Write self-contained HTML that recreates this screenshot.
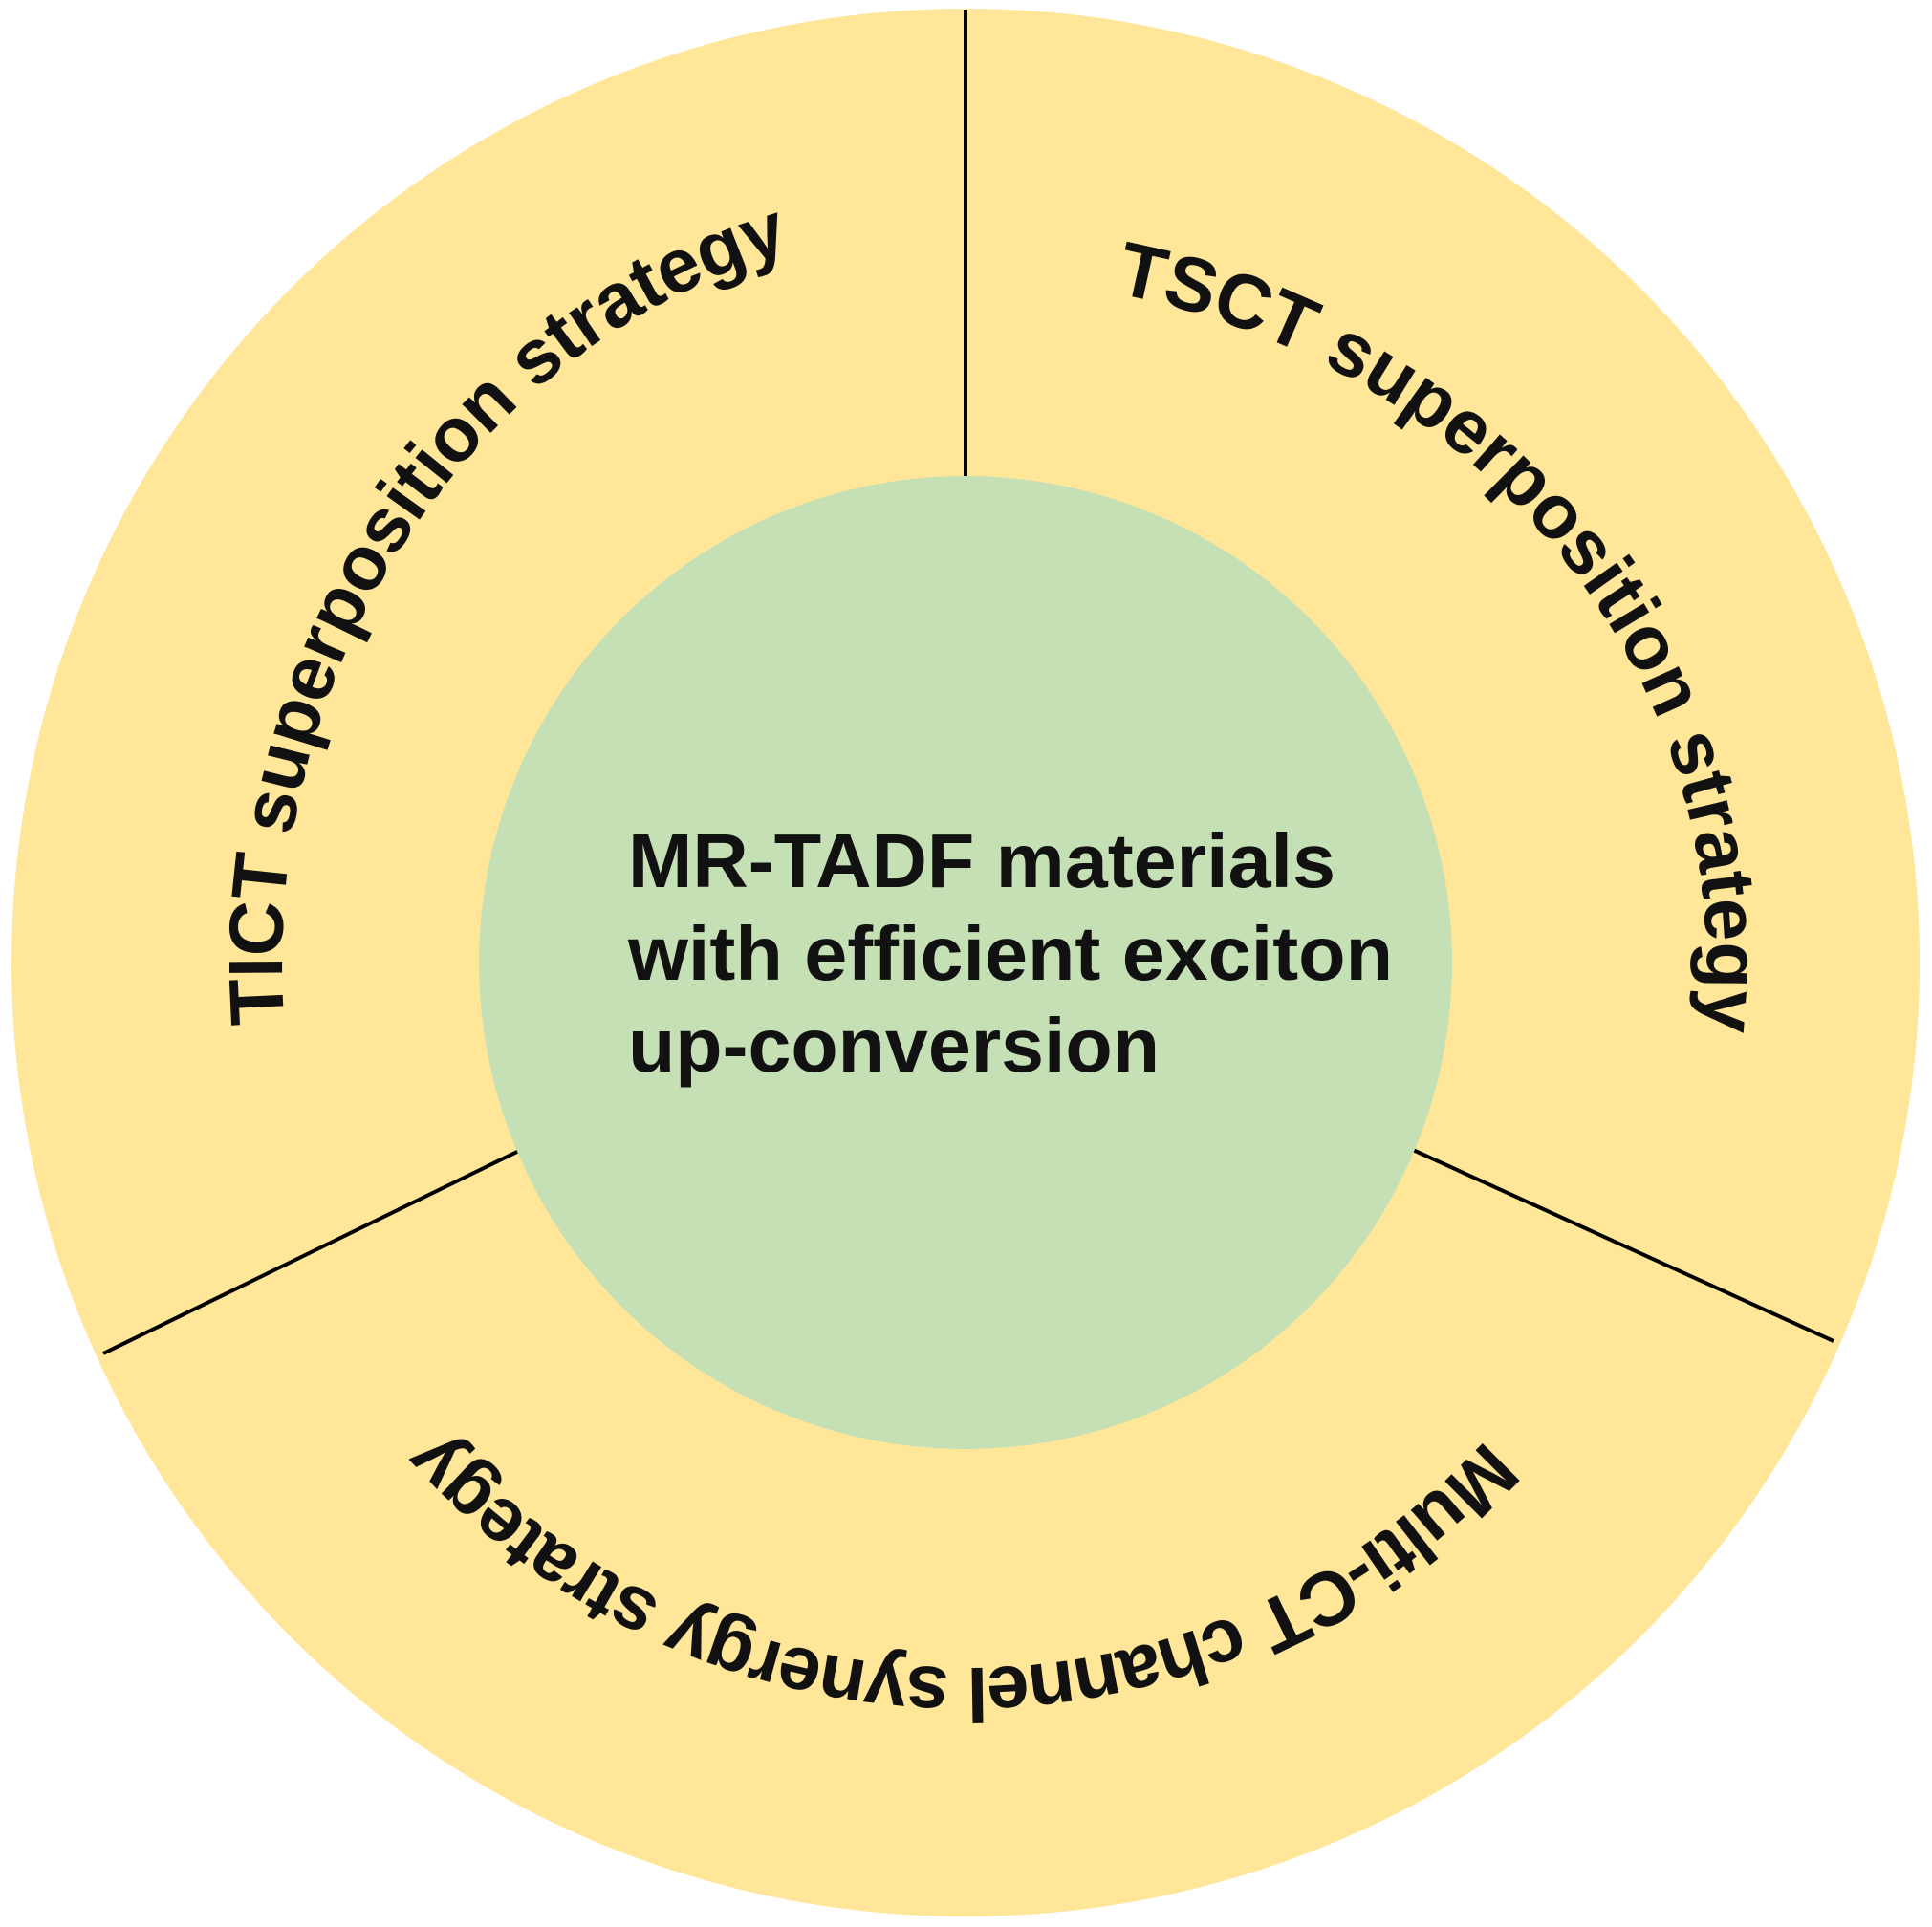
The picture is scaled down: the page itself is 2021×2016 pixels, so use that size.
<!DOCTYPE html>
<html><head><meta charset="utf-8"><style>html,body{margin:0;padding:0;background:#fff}svg{display:block}</style></head>
<body>
<svg width="2021" height="2016" viewBox="0 0 2021 2016" xmlns="http://www.w3.org/2000/svg">
<defs>
<path id="ring" d="M 1748 1007 A 738 738 0 0 1 272 1007 A 738 738 0 0 1 1748 1007" fill="none"/>
<path id="ringL" d="M 1010 1777 A 715 770 0 0 1 1010 237 A 715 770 0 0 1 1010 1777" fill="none"/>
<path id="ringR" d="M 235 1007 A 775 715 0 0 1 1785 1007 A 775 715 0 0 1 235 1007" fill="none"/>
</defs>
<circle cx="1010" cy="1007" r="998" fill="#FFE699"/>
<line x1="1010" y1="10" x2="1010" y2="500" stroke="#000" stroke-width="4"/>
<line x1="545" y1="1203" x2="108" y2="1416" stroke="#000" stroke-width="4"/>
<line x1="1478" y1="1203" x2="1918" y2="1403" stroke="#000" stroke-width="4"/>
<circle cx="1010" cy="1007" r="509" fill="#C5E0B4"/>
<g font-family="Liberation Sans, Arial, sans-serif" font-weight="bold" font-size="80" fill="#111">
<text text-anchor="middle"><textPath href="#ringL" startOffset="1625" textLength="1045" lengthAdjust="spacing">TICT superposition strategy</textPath></text>
<text text-anchor="middle"><textPath href="#ringR" startOffset="1870" textLength="1085" lengthAdjust="spacing">TSCT superposition strategy</textPath></text>
<text text-anchor="middle"><textPath href="#ring" startOffset="1165" textLength="1235" lengthAdjust="spacing">Multi-CT channel synergy strategy</textPath></text>
<text x="657" y="928" textLength="740" lengthAdjust="spacingAndGlyphs">MR-TADF materials</text>
<text x="657" y="1025" textLength="800" lengthAdjust="spacingAndGlyphs">with efficient exciton</text>
<text x="657" y="1121" textLength="556" lengthAdjust="spacingAndGlyphs">up-conversion</text>
</g>
</svg>
</body></html>
